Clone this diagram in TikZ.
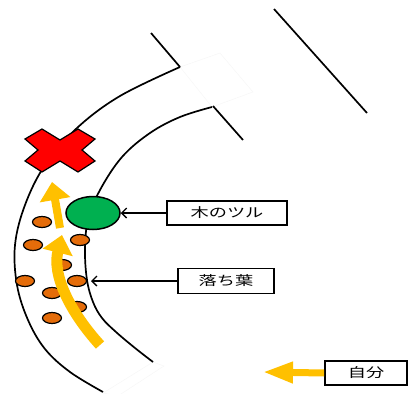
\documentclass[tikz,border=0pt]{standalone}
\usepackage{fontspec}
\newfontfamily\jpfont{Noto Sans CJK JP}
\usetikzlibrary{arrows.meta,shapes.geometric}
\definecolor{gold}{RGB}{255,192,0}
\definecolor{leafgreen}{RGB}{0,176,80}
\definecolor{leaforange}{RGB}{228,108,10}
\definecolor{crossred}{RGB}{255,0,0}
\tikzset{
  edge/.style={black, line width=1.7pt},
  faint/.style={draw=black!3, line width=0.5pt, fill=white},
  leaf/.style={draw=black, line width=1.2pt, fill=leaforange, ellipse, minimum width=19pt, minimum height=11pt, inner sep=0pt},
  label box/.style={draw=black, line width=1.8pt, fill=white, inner sep=0pt, font=\jpfont\fontsize{13}{13}\selectfont},
  pointer/.style={black, line width=1.3pt, -{Straight Barb[length=5pt,width=10pt]}},
  flow/.style={gold, -{Triangle[width=30pt,length=18pt]}},
}
\begin{document}
\begin{tikzpicture}[x=1pt,y=-1pt]
\useasboundingbox (0,0) rectangle (408,394);

% faint white patches at the path openings
\draw[faint] (180,67) -- (220,53) -- (253,92) -- (212,107) -- cycle;
\draw[faint] (103,393) -- (153,362) -- (164,366) -- (118,396) -- cycle;

% side walls
\draw[edge] (151,33) -- (180,67);
\draw[edge] (213,106) -- (243,140);
\draw[edge] (274,9) -- (367,113);

% the curved path, outer and inner edge
\draw[edge] plot[smooth, tension=0.6] coordinates {(180,67) (120,96) (77,128) (45,165) (25,205) (15,245) (17,285) (28,320) (45,349) (70,372) (103,392)};
\draw[edge] plot[smooth, tension=0.6] coordinates {(212,107) (180,117) (150,133) (122,157) (100,190) (88,220) (85,250) (87,280) (93,302) (102,318) (116,332) (135,348) (153,362)};

% fallen leaves
\foreach \p/\q [count=\i] in {42/222, 33/245, 80/240, 62/265, 25/281, 77/281, 52/293, 77/307, 52/318}
  \node[leaf] (leaf\i) at (\p,\q) {};

% walking direction
\draw[flow, line width=11pt] (100,345) .. controls (70,312) and (52,275) .. (62,235);
\draw[flow, line width=8pt] (60,228) -- (52,182);

% dead end mark
\fill[crossred, draw=black, line width=1.2pt]
  (25,139) -- (42,129) -- (60,140) -- (78,129) -- (95,139) -- (82,150) --
  (95,161) -- (78,172) -- (60,161) -- (42,172) -- (25,161) -- (38,150) -- cycle;

% vine
\node[draw=black, line width=1.5pt, fill=leafgreen, ellipse, minimum width=54pt, minimum height=33pt, inner sep=0pt] (vine) at (93,213) {};

% labels
\node[label box, minimum width=120pt, minimum height=24pt] (vinelabel) at (227,213) {\scalebox{1.4}[1]{木のツル}};
\node[label box, minimum width=96pt, minimum height=25pt] (leaflabel) at (226,281) {\scalebox{1.4}[1]{落ち葉}};
\node[label box, minimum width=82pt, minimum height=24pt] (selflabel) at (366,373) {\scalebox{1.4}[1]{自分}};

\coordinate (wall) at (91,281);
\draw[pointer] (vinelabel.west) -- (vine.east);
\draw[pointer] (leaflabel.west) -- (wall);
\draw[gold, line width=7pt, -{Triangle[width=20pt,length=30pt]}] (selflabel.west) -- (263,372);
\end{tikzpicture}
\end{document}
